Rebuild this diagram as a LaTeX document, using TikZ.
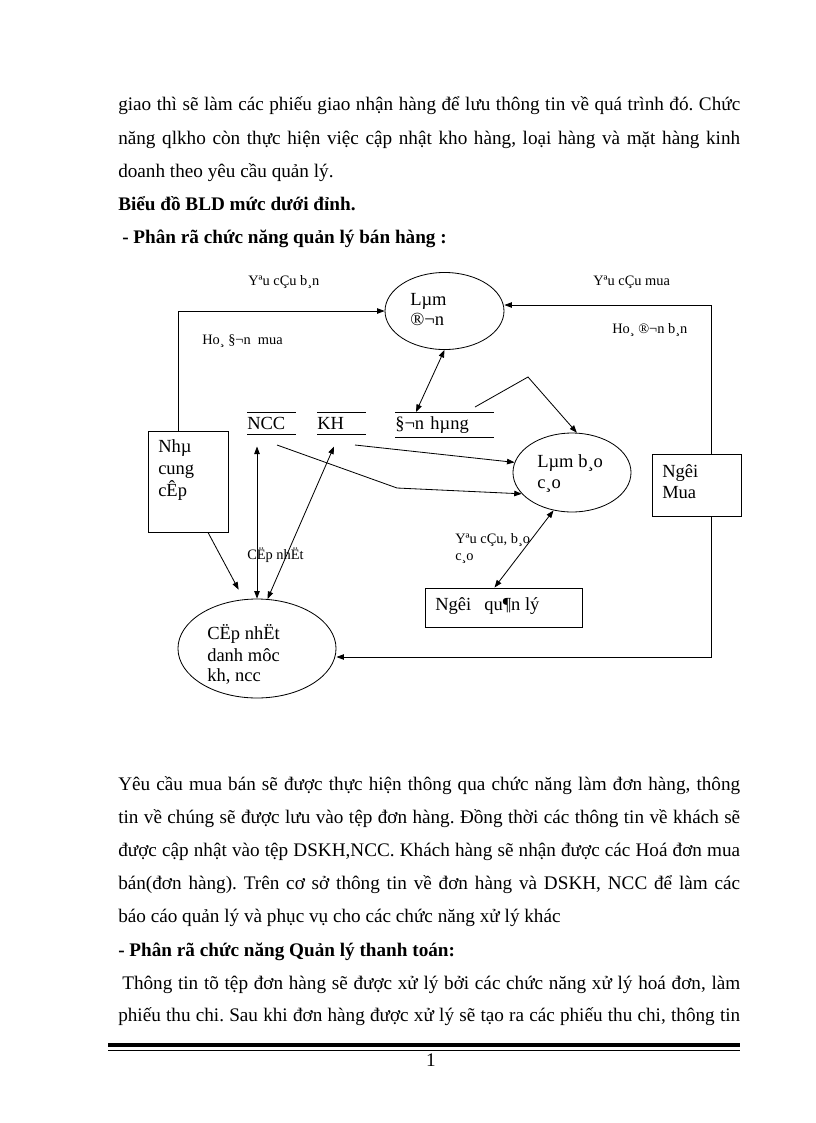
\documentclass[tikz,border=0pt]{standalone}
\usepackage{fontspec}
\setmainfont{Liberation Serif}
\usetikzlibrary{arrows.meta,shapes.geometric,calc}
\frenchspacing
\begin{document}
\begin{tikzpicture}[x=0.7295pt,y=-0.7295pt,
  body/.style={anchor=base west, inner sep=0pt, font=\fontsize{14}{16}\selectfont},
  bodyb/.style={anchor=base west, inner sep=0pt, font=\fontsize{14}{16}\selectfont\bfseries},
  txt/.style={anchor=base west, inner sep=0pt, font=\fontsize{13.5}{15}\selectfont},
  lbl/.style={anchor=base west, inner sep=0pt, font=\fontsize{10.5}{12}\selectfont},
  proc/.style={ellipse, draw, line width=0.6pt, inner sep=0pt},
  ent/.style={rectangle, draw, line width=0.6pt, inner sep=0pt},
  store/.style={anchor=north west, inner sep=0pt, align=left, font=\fontsize{13.5}{15}\selectfont},
  ln/.style={line width=0.6pt},
  arr/.style={line width=0.6pt, -{Triangle[length=5.5pt,width=4pt]}},
  darr/.style={line width=0.6pt, {Triangle[length=5.5pt,width=4pt]}-{Triangle[length=5.5pt,width=4pt]}}
]
\useasboundingbox[fill=white] (0,0) rectangle (816,1123);

% ---------- upper text ----------
\node[body] (t1) at (118,110) {\makebox[453.7pt][s]{giao thì sẽ làm các phiếu giao nhận hàng để lưu thông tin về quá trình đó. Chức}};
\node[body] (t2) at (118,144) {\makebox[453.7pt][s]{năng qlkho còn thực hiện việc cập nhật kho hàng, loại hàng và mặt hàng kinh}};
\node[body] (t3) at (118,177) {doanh theo yêu cầu quản lý.};
\node[bodyb] (t4) at (118,210) {Biểu đồ BLD mức dưới đỉnh.};
\node[bodyb] (t5) at (122,243) {- Phân rã chức năng quản lý bán hàng :};

% ---------- diagram nodes ----------
\node[proc, minimum width=86.8pt, minimum height=56.2pt] (lamdon) at (444.5,311) {};
\node[proc, minimum width=86.1pt, minimum height=57.6pt] (lambc) at (572,472.5) {};
\node[proc, minimum width=115.3pt, minimum height=72.2pt] (capnhat) at (257,648.5) {};
\node[ent, minimum width=58.4pt, minimum height=73.7pt] (nha) at (188,481.5) {};
\node[ent, minimum width=64.9pt, minimum height=45.2pt] (mua) at (696.5,485) {};
\node[ent, minimum width=114.5pt, minimum height=28.5pt] (ql) at (503.5,607.5) {};

\node[store, minimum width=35.7pt, text width=35.7pt, minimum height=16pt] (ncc) at (247,412) {NCC};
\node[store, minimum width=35.7pt, text width=35.7pt, minimum height=16pt] (kh) at (317,412) {KH};
\node[store, minimum width=71.5pt, text width=71.5pt, minimum height=18.2pt] (dh) at (395,412) {§¬n hµng};
\foreach \s in {ncc,kh,dh}
  \draw[ln] (\s.north west) -- (\s.north east) (\s.south west) -- (\s.south east);

% node texts
\node[txt] (lamdon1) at (410,305) {Lµm};
\node[txt] (lamdon2) at (410,325) {®¬n};
\node[txt] (lambc1) at (537,467) {Lµm b¸o};
\node[txt] (lambc2) at (537,488) {c¸o};
\node[txt] (nha1) at (158,452) {Nhµ};
\node[txt] (nha2) at (158,474) {cung};
\node[txt] (nha3) at (158,496) {cÊp};
\node[txt] (cap1) at (207,639) {CËp nhËt};
\node[txt] (cap2) at (207,661) {danh môc};
\node[txt] (cap3) at (207,681) {kh, ncc};
\node[txt] (mua1) at (662,477) {Ngêi};
\node[txt] (mua2) at (662,498) {Mua};
\node[txt] (ql1) at (435,610) {Ngêi\hspace{9.5pt}qu¶n lý};

% labels
\node[lbl] (l1) at (248,285) {Yªu cÇu b¸n};
\node[lbl] (l2) at (202,344) {Ho¸ §¬n\ \ mua};
\node[lbl] (l3) at (593,285) {Yªu cÇu mua};
\node[lbl] (l4) at (612,333) {Ho¸ ®¬n b¸n};
\node[lbl] (l5) at (455,543) {Yªu cÇu, b¸o};
\node[lbl] (l6) at (455,560) {c¸o};
\node[lbl] (l7) at (247,559) {CËp nhËt};

% ---------- connectors ----------
\coordinate (c1) at (178,311);
\draw[arr] (nha.north -| c1) |- (lamdon);
\coordinate (c2) at (711,305);
\draw[arr] (mua.north -| c2) -- (c2) -- (c2 -| lamdon.east);
\draw[darr] (lamdon.south) -- ($(dh.north west)+(21,0)$);
\coordinate (c3) at (475,407);
\coordinate (c4) at (528,377);
\draw[arr] (c3) -- (c4) -- (lambc.83);
\coordinate (c5) at (355,445);
\draw[arr] (c5) -- (lambc.170);
\coordinate (c6) at (277,445);
\coordinate (c7) at (397,488);
\draw[arr] (c6) -- (c7) -- (lambc.203);
\draw[darr] (lambc.244) -- ($(ql.north)+(-9,0)$);
\coordinate (c8) at (711,657);
\draw[arr] (mua.south -| c8) -- (c8) -- (c8 -| capnhat.east);
\draw[arr, shorten >=8pt] ($(nha.south)+(20,0)$) -- (capnhat.105);
\draw[darr] ($(ncc.south west)+(10,12)$) -- (capnhat.north);
\draw[darr] ($(kh.south west)+(17,12)$) -- (capnhat.78);

% ---------- lower text ----------
\node[body] (b1) at (118,790) {\makebox[453.7pt][s]{Yêu cầu mua bán sẽ được thực hiện thông qua chức năng làm đơn hàng, thông}};
\node[body] (b2) at (118,823) {\makebox[453.7pt][s]{tin về chúng sẽ được lưu vào tệp đơn hàng. Đồng thời các thông tin về khách sẽ}};
\node[body] (b3) at (118,856) {\makebox[453.7pt][s]{được cập nhật vào tệp DSKH,NCC. Khách hàng sẽ nhận được các Hoá đơn mua}};
\node[body] (b4) at (118,889) {\makebox[453.7pt][s]{bán(đơn hàng). Trên cơ sở thông tin về đơn hàng và DSKH, NCC để làm các}};
\node[body] (b5) at (118,922) {báo cáo quản lý và phục vụ cho các chức năng xử lý khác};
\node[bodyb] (b6) at (118,956) {- Phân rã chức năng Quản lý thanh toán:};
\node[body] (b7) at (122,989) {\makebox[450.8pt][s]{Thông tin tõ tệp đơn hàng sẽ được xử lý bởi các chức năng xử lý hoá đơn, làm}};
\node[body] (b8) at (118,1021) {\makebox[453.7pt][s]{phiếu thu chi. Sau khi đơn hàng được xử lý sẽ tạo ra các phiếu thu chi, thông tin}};

% ---------- footer ----------
\coordinate (f1) at (108,1045);
\coordinate (f2) at (740,1045);
\draw[line width=2.3pt] (f1) -- (f2);
\draw[line width=0.6pt] ($(f1)+(0,5)$) -- ($(f2)+(0,5)$);
\node[body, anchor=base] (pg) at (431,1066) {1};
\end{tikzpicture}
\end{document}
